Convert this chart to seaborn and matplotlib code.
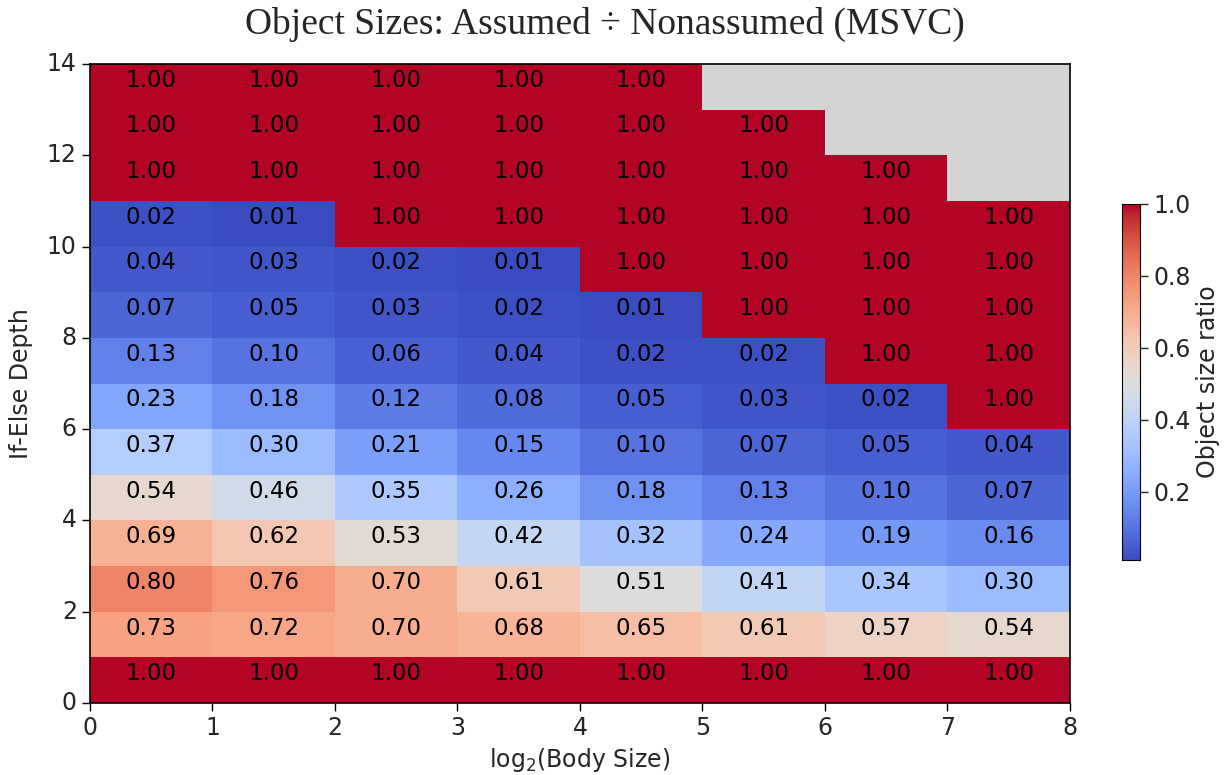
import numpy as np
import pandas as pd
import seaborn as sns
import matplotlib
matplotlib.use("Agg")
import matplotlib.pyplot as plt

body_sizes = [0, 1, 2, 3, 4, 5, 6, 7]
depths = list(range(14))
nan = np.nan
# rows: depth 0 (bottom) .. 13 (top); columns: log2(body size) 0..7
ratios = [
    [1.00, 1.00, 1.00, 1.00, 1.00, 1.00, 1.00, 1.00],
    [0.73, 0.72, 0.70, 0.68, 0.65, 0.61, 0.57, 0.54],
    [0.80, 0.76, 0.70, 0.61, 0.51, 0.41, 0.34, 0.30],
    [0.69, 0.62, 0.53, 0.42, 0.32, 0.24, 0.19, 0.16],
    [0.54, 0.46, 0.35, 0.26, 0.18, 0.13, 0.10, 0.07],
    [0.37, 0.30, 0.21, 0.15, 0.10, 0.07, 0.05, 0.04],
    [0.23, 0.18, 0.12, 0.08, 0.05, 0.03, 0.02, 1.00],
    [0.13, 0.10, 0.06, 0.04, 0.02, 0.02, 1.00, 1.00],
    [0.07, 0.05, 0.03, 0.02, 0.01, 1.00, 1.00, 1.00],
    [0.04, 0.03, 0.02, 0.01, 1.00, 1.00, 1.00, 1.00],
    [0.02, 0.01, 1.00, 1.00, 1.00, 1.00, 1.00, 1.00],
    [1.00, 1.00, 1.00, 1.00, 1.00, 1.00, 1.00, nan],
    [1.00, 1.00, 1.00, 1.00, 1.00, 1.00, nan, nan],
    [1.00, 1.00, 1.00, 1.00, 1.00, nan, nan, nan],
]
x_ticks = [0, 1, 2, 3, 4, 5, 6, 7, 8]
y_ticks = [0, 2, 4, 6, 8, 10, 12, 14]
cbar_ticks = [0.2, 0.4, 0.6, 0.8, 1.0]

df = pd.DataFrame(ratios, index=depths, columns=body_sizes)

sns.set_style("white")
plt.rcParams["font.family"] = ["DejaVu Sans"]

fig = plt.figure(figsize=(12.29, 7.75), dpi=100)
ax = fig.add_axes([0.0732, 0.0929, 0.7974, 0.8245])
cax = fig.add_axes([0.9129, 0.2774, 0.0146, 0.4594])
ax.set_facecolor("lightgray")

sns.heatmap(df, ax=ax, cbar_ax=cax, cmap="coolwarm", vmin=np.nanmin(df.values), vmax=1.0,
            annot=True, fmt=".2f",
            annot_kws={"color": "black", "fontsize": 16.5, "va": "baseline"},
            cbar_kws={"ticks": cbar_ticks})
ax.invert_yaxis()
ax.set_xticks(x_ticks)
ax.set_xticklabels([str(v) for v in x_ticks], rotation=0)
ax.set_yticks(y_ticks)
ax.set_yticklabels([str(v) for v in y_ticks], rotation=0)
ax.tick_params(axis="both", which="both", length=6, width=1, direction="out",
               labelsize=17, color="black", left=True, bottom=True)
for s in ax.spines.values():
    s.set_visible(True)
    s.set_color("black")
    s.set_linewidth(1.2)
ax.set_xlabel("log$_2$(Body Size)", fontsize=17)
ax.set_ylabel("If-Else Depth", fontsize=17, labelpad=10)

cax.tick_params(labelsize=17, length=6, width=1, right=True, direction="out")
cax.set_ylabel("Object size ratio", fontsize=17)
for s in cax.spines.values():
    s.set_visible(True)
    s.set_color("black")
cax.set_frame_on(True)

fig.suptitle("Object Sizes: Assumed ÷ Nonassumed (MSVC)", x=0.492, y=0.969,
             fontsize=27, family="Liberation Serif", va="center")

fig.savefig("out.png", dpi=100)
